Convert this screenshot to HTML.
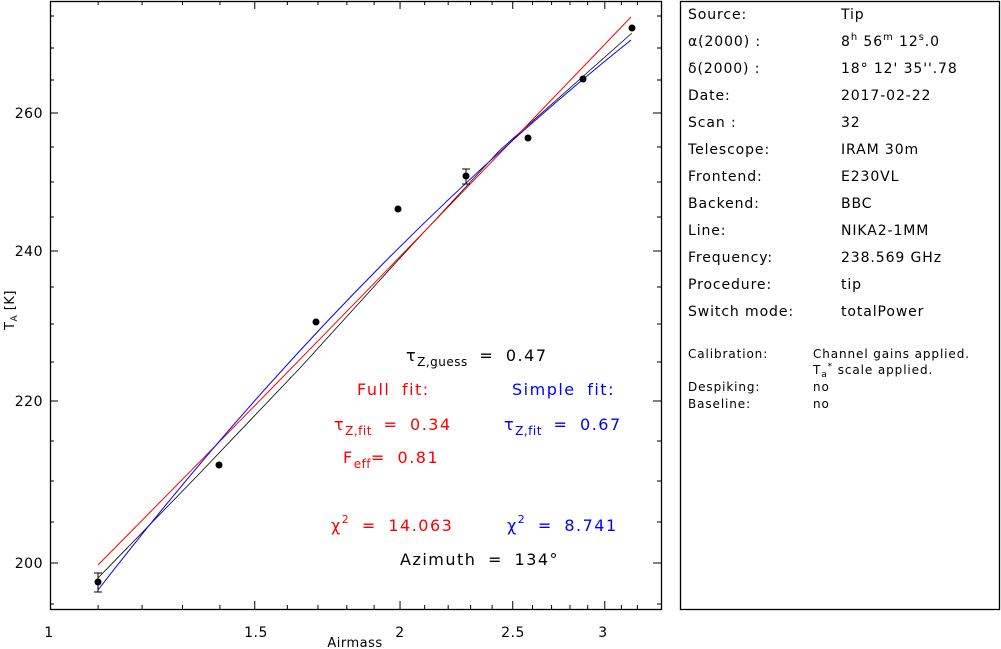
<!DOCTYPE html>
<html><head><meta charset="utf-8"><style>
body{margin:0;background:#fff;width:1001px;height:649px;overflow:hidden}
svg{display:block;font-family:"DejaVu Sans","Liberation Sans",sans-serif}
.ann{letter-spacing:1.5px;word-spacing:5px}
.pan{letter-spacing:0.9px}
</style></head><body>
<svg id="s" width="1001" height="649" viewBox="0 0 1001 649">
<rect x="50.5" y="1.5" width="611" height="608" fill="none" stroke="#000" stroke-width="1.3"/>
<rect x="680.5" y="1.5" width="319" height="608" fill="none" stroke="#000" stroke-width="1.3"/>
<g id="ticks" stroke="#000" stroke-width="1"></g>
<g font-size="14" fill="#000" style="letter-spacing:0.5px">
<text x="49" y="637" text-anchor="middle">1</text>
<text x="256" y="637" text-anchor="middle">1.5</text>
<text x="400" y="637" text-anchor="middle">2</text>
<text x="513" y="637" text-anchor="middle">2.5</text>
<text x="603" y="637" text-anchor="middle">3</text>
<text x="355" y="647" text-anchor="middle" font-size="13">Airmass</text>
<text x="43" y="118" text-anchor="end">260</text>
<text x="43" y="256" text-anchor="end">240</text>
<text x="43" y="406" text-anchor="end">220</text>
<text x="43" y="568" text-anchor="end">200</text>
<text transform="translate(14,330) rotate(-90)" font-size="13">T<tspan font-size="9" dy="3">A</tspan><tspan dy="-3"> [K]</tspan></text>
</g>
<polyline points="98,578 200,473 300,368 400,258 500,150 632,33" fill="none" stroke="#000" stroke-width="0.8"/>
<path d="M98,565 Q360,300 631,17" fill="none" stroke="#f00" stroke-width="1"/>
<path d="M98,590 Q350,265 631,40" fill="none" stroke="#00f" stroke-width="1"/>
<g fill="#000" stroke="#000">
<circle cx="98" cy="582" r="3"/><line x1="98" y1="573" x2="98" y2="592"/><line x1="94" y1="573" x2="102" y2="573"/><line x1="94" y1="592" x2="102" y2="592"/>
<circle cx="219" cy="465" r="3"/>
<circle cx="316" cy="322" r="3"/>
<circle cx="398" cy="209" r="3"/>
<circle cx="466" cy="176" r="3"/><line x1="466" y1="169" x2="466" y2="184"/><line x1="462" y1="169" x2="470" y2="169"/><line x1="462" y1="184" x2="470" y2="184"/>
<circle cx="528" cy="138" r="3"/>
<circle cx="583" cy="79" r="3"/>
<circle cx="632" cy="28" r="3"/>
</g>
<g font-size="16" class="ann">
<text x="406" y="361">τ<tspan font-size="12" dy="5" style="letter-spacing:0.5px">Z,guess</tspan><tspan dy="-5"> = 0.47</tspan></text>
<text x="357" y="395" fill="#f00">Full fit:</text>
<text x="512" y="395" fill="#00f">Simple fit:</text>
<text x="334" y="430" fill="#f00">τ<tspan font-size="12" dy="5" style="letter-spacing:0.5px">Z,fit</tspan><tspan dy="-5"> = 0.34</tspan></text>
<text x="504" y="430" fill="#00f">τ<tspan font-size="12" dy="5" style="letter-spacing:0.5px">Z,fit</tspan><tspan dy="-5"> = 0.67</tspan></text>
<text x="343" y="463" fill="#f00">F<tspan font-size="12" dy="5" style="letter-spacing:0.5px">eff</tspan><tspan dy="-5">= 0.81</tspan></text>
<text x="331" y="531" fill="#f00">χ<tspan font-size="11" dy="-8">2</tspan><tspan dy="8"> = 14.063</tspan></text>
<text x="507" y="531" fill="#00f">χ<tspan font-size="11" dy="-8">2</tspan><tspan dy="8"> = 8.741</tspan></text>
<text x="400" y="565">Azimuth = 134°</text>
</g>
<g font-size="14" class="pan">
<text x="688" y="19">Source:</text><text x="841" y="19">Tip</text>
<text x="688" y="46">α(2000) :</text><text x="841" y="46">8<tspan font-size="10" dy="-6">h</tspan><tspan dy="6"> 56</tspan><tspan font-size="10" dy="-6">m</tspan><tspan dy="6"> 12</tspan><tspan font-size="10" dy="-6">s</tspan><tspan dy="6">.0</tspan></text>
<text x="688" y="73">δ(2000) :</text><text x="841" y="73">18° 12' 35''.78</text>
<text x="688" y="100">Date:</text><text x="841" y="100">2017-02-22</text>
<text x="688" y="127">Scan :</text><text x="841" y="127">32</text>
<text x="688" y="154">Telescope:</text><text x="841" y="154">IRAM 30m</text>
<text x="688" y="181">Frontend:</text><text x="841" y="181">E230VL</text>
<text x="688" y="208">Backend:</text><text x="841" y="208">BBC</text>
<text x="688" y="235">Line:</text><text x="841" y="235">NIKA2-1MM</text>
<text x="688" y="262">Frequency:</text><text x="841" y="262">238.569 GHz</text>
<text x="688" y="289">Procedure:</text><text x="841" y="289">tip</text>
<text x="688" y="316">Switch mode:</text><text x="841" y="316">totalPower</text>
</g>
<g font-size="12" class="pan">
<text x="688" y="358">Calibration:</text><text x="813" y="358">Channel gains applied.</text>
<text x="813" y="374">T<tspan font-size="9" dy="3">a</tspan><tspan font-size="9" dy="-8">*</tspan><tspan dy="5"> scale applied.</tspan></text>
<text x="688" y="391">Despiking:</text><text x="813" y="391">no</text>
<text x="688" y="408">Baseline:</text><text x="813" y="408">no</text>
</g>
</svg>
<script>
var g=document.getElementById('ticks'),h='';
function X(a){return 50+505*Math.log(a);}
for(var i=11;i<=32;i++){var a=i/10,x=X(a),maj=(i==15||i==20||i==25||i==30);
h+='<line x1="'+x+'" y1="609" x2="'+x+'" y2="'+(609-(maj?8:4))+'"/><line x1="'+x+'" y1="1" x2="'+x+'" y2="'+(1+(maj?8:4))+'"/>';}
var ym={275:16,270:48,265:80,260:113,255:147,250:182,245:217,240:251,235:287,230:324,225:362,220:401,215:441,210:481,205:522,200:563,195:604};
for(var k in ym){var y=ym[k],maj=(k%20==0);
h+='<line x1="50" y1="'+y+'" x2="'+(50+(maj?8:4))+'" y2="'+y+'"/><line x1="661" y1="'+y+'" x2="'+(661-(maj?8:4))+'" y2="'+y+'"/>';}
g.innerHTML=h;
</script>
</body></html>
